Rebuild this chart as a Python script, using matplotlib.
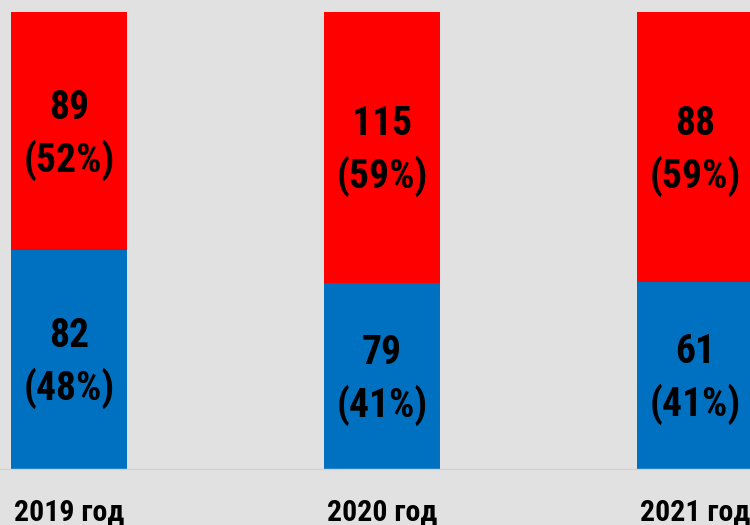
import matplotlib
matplotlib.use("Agg")
import matplotlib.pyplot as plt
import matplotlib.transforms as mtransforms
import numpy as np

categories = ["2019 год", "2020 год", "2021 год"]
blue_values = [82, 79, 61]
red_values = [89, 115, 88]

BLUE = "#0070c0"
RED = "#ff0000"
BG = "#e1e1e1"
FONT = ["Roboto Condensed", "PT Sans Narrow", "DejaVu Sans"]

W, H = 750, 525
fig = plt.figure(figsize=(7.5, 5.25), dpi=100, facecolor=BG)

bottom_px, top_px = 469, 12
ax = fig.add_axes([0, 1 - bottom_px / H, 1, (bottom_px - top_px) / H])
ax.set_facecolor(BG)

x = np.arange(len(categories))
blue = np.array(blue_values, dtype=float)
red = np.array(red_values, dtype=float)
tot = blue + red
bf = blue / tot
rf = red / tot

width = 0.37
ax.bar(x, bf, width=width, color=BLUE, edgecolor="none")
ax.bar(x, rf, width=width, bottom=bf, color=RED, edgecolor="none")

PX = 0.72  # points per pixel at 100 dpi


def pair(xc, yc, top, bottom):
    ax.annotate(top, (xc, yc), xytext=(0, 12 * PX), textcoords="offset points",
                ha="center", va="baseline", fontsize=28.5, fontweight="bold",
                family=FONT, color="black")
    ax.annotate(bottom, (xc, yc), xytext=(0, -40.5 * PX), textcoords="offset points",
                ha="center", va="baseline", fontsize=28.5, fontweight="bold",
                family=FONT, color="black")


for i in range(len(x)):
    pair(x[i], bf[i] / 2, f"{blue_values[i]}", f"({round(bf[i]*100)}%)")
    pair(x[i], bf[i] + rf[i] / 2, f"{red_values[i]}", f"({round(rf[i]*100)}%)")

c0, sp = 69, 313
ax.set_xlim(-c0 / sp, (W - c0) / sp)
ax.set_ylim(0, 1)
for s in ["top", "right", "left"]:
    ax.spines[s].set_visible(False)
ax.spines["bottom"].set_color("#d2d2d2")
ax.spines["bottom"].set_linewidth(1)
ax.set_yticks([])
ax.set_xticks([])

trans = mtransforms.blended_transform_factory(ax.transData, fig.transFigure)
for i, c in enumerate(categories):
    ax.text(x[i], 1 - 520 / H, c, transform=trans, ha="center", va="baseline",
            fontsize=21.5, fontweight="bold", family=FONT, color="black",
            clip_on=False)

fig.savefig("out.png", dpi=100, facecolor=BG)
